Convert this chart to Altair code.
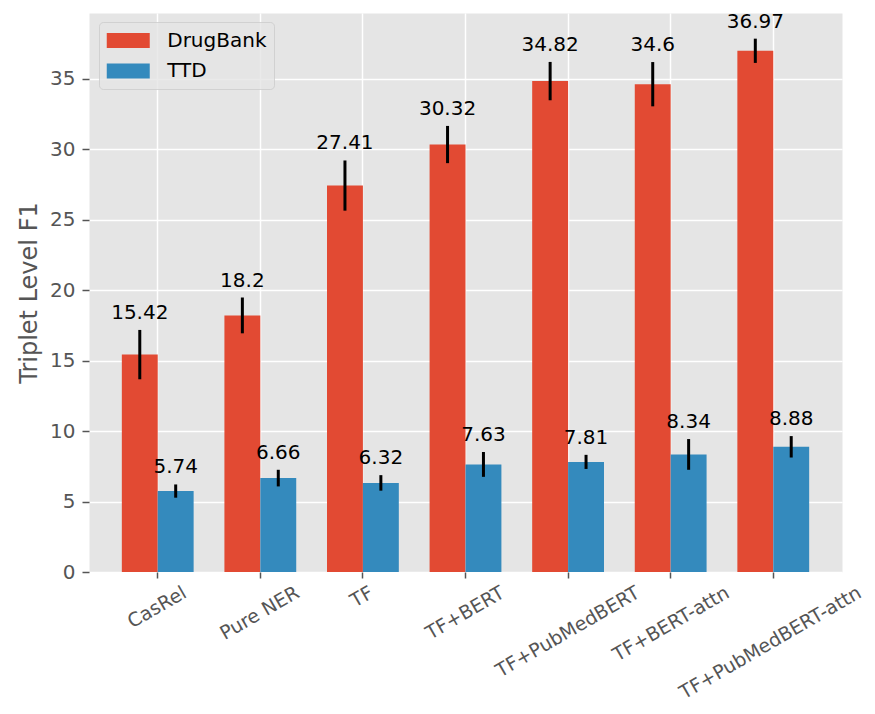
import altair as alt
import pandas as pd

categories = ["CasRel", "Pure NER", "TF", "TF+BERT", "TF+PubMedBERT",
              "TF+BERT-attn", "TF+PubMedBERT-attn"]
series_names = ["DrugBank", "TTD"]
drugbank = [15.42, 18.2, 27.41, 30.32, 34.82, 34.6, 36.97]
drugbank_err = [1.75, 1.27, 1.78, 1.32, 1.36, 1.57, 0.86]
ttd = [5.74, 6.66, 6.32, 7.63, 7.81, 8.34, 8.88]
ttd_err = [0.47, 0.59, 0.55, 0.88, 0.50, 1.09, 0.76]
y_ticks = [0, 5, 10, 15, 20, 25, 30, 35]

# style: horizontal shift of rotated tick labels (mimics centered rotated text)
label_shift = {"CasRel": 22.6, "Pure NER": 32.8, "TF": 4.2, "TF+BERT": 32.7,
               "TF+PubMedBERT": 65.5, "TF+BERT-attn": 52.4, "TF+PubMedBERT-attn": 82}

rows = []
for name, vals, errs in [("DrugBank", drugbank, drugbank_err), ("TTD", ttd, ttd_err)]:
    for c, v, e in zip(categories, vals, errs):
        rows.append({"category": c, "series": name, "value": v,
                     "lo": v - e, "hi": v + e, "label": str(v)})
df = pd.DataFrame(rows)

FONT = "DejaVu Sans"
GREY = "#555555"

offset_cond = {
    "condition": [{"test": f"datum.value === '{k}'", "value": v} for k, v in label_shift.items()],
    "value": 0,
}

x_axis = alt.Axis(
    title=None, labelAngle=-30, labelAlign="right", labelBaseline="top",
    labelFontSize=19, labelColor=GREY, labelFont=FONT, labelOverlap=False,
    labelFlush=False, labelPadding=5, labelOffset=offset_cond, labelLimit=0,
    tickColor=GREY, tickSize=6, tickWidth=1.5, domain=False,
    grid=True, gridColor="white", gridWidth=1.5, bandPosition=0.5,
)
y_axis = alt.Axis(
    title="Triplet Level F1", titleFontSize=24, titleColor=GREY, titleFont=FONT,
    titleFontWeight="normal", titlePadding=8, values=y_ticks,
    labelFontSize=20, labelColor=GREY, labelFont=FONT, labelPadding=7,
    tickColor=GREY, tickSize=7, tickWidth=1.5, domain=False,
    grid=True, gridColor="white", gridWidth=1.5,
)

base = alt.Chart(df).encode(
    x=alt.X("category:N", sort=categories,
            scale=alt.Scale(paddingInner=0.3, paddingOuter=0.32), axis=x_axis),
    xOffset=alt.XOffset("series:N", sort=series_names,
                        scale=alt.Scale(paddingInner=0, paddingOuter=0)),
)

bars = base.mark_bar().encode(
    y=alt.Y("value:Q", scale=alt.Scale(domain=[0, 39.65], nice=False, zero=True), axis=y_axis),
    color=alt.Color(
        "series:N",
        scale=alt.Scale(domain=series_names, range=["#E24A33", "#348ABD"]),
        legend=alt.Legend(
            title=None, orient="none", legendX=10, legendY=9,
            symbolType="M-2,-0.7H2V0.7H-2Z", symbolSize=462, symbolStrokeWidth=0,
            symbolOffset=10.75, symbolOpacity=1,
            labelFontSize=20, labelFont=FONT, labelColor="black", labelOffset=28,
            rowPadding=9.5, padding=7.5,
            fillColor="rgba(229,229,229,0.8)", strokeColor="rgba(204,204,204,0.8)",
            cornerRadius=4,
        ),
    ),
)

rules = base.mark_rule(color="black", strokeWidth=3).encode(
    y=alt.Y("lo:Q"), y2=alt.Y2("hi:Q"),
)

texts = base.mark_text(baseline="alphabetic", dy=-11, fontSize=20, font=FONT,
                       color="black", align="center").encode(
    y=alt.Y("hi:Q"), text=alt.Text("label:N"),
)

chart = alt.layer(bars, rules, texts).properties(
    width=753, height=559,
    autosize=alt.AutoSizeParams(type="none"),
    padding={"left": 81, "top": 5, "right": 25, "bottom": 134},
    background="white",
).configure_view(fill="#E5E5E5", stroke="transparent")

chart.save("out.html", embed_options={"renderer": "svg", "actions": False})
